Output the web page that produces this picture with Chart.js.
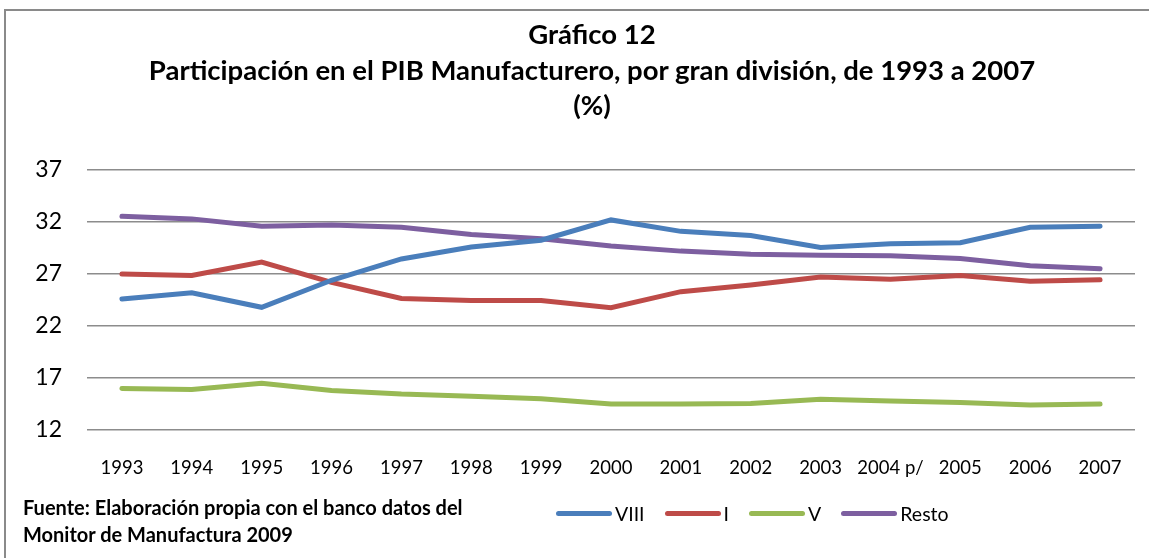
<!DOCTYPE html>
<html>
<head>
<meta charset="utf-8">
<script src="https://cdn.jsdelivr.net/npm/chart.js@4"></script>
<style>
  body { margin: 0; background: #fff; overflow: hidden; }
  #frame { position: absolute; left: 4px; top: 9px; width: 1160px; height: 560px;
           border-left: 2px solid #8a8a8a; border-top: 2px solid #8a8a8a; }
  #wrap { position: absolute; left: 0; top: 0; width: 1149px; height: 558px; }
  #title { position: absolute; left: 0; top: 16px; width: 1184px; text-align: center;
           font: bold 27.5px Lato, sans-serif; line-height: 35.5px; color: #000; }
  .note { position: absolute; left: 23px; top: 494px; font: bold 20px Lato, sans-serif; line-height: 27px; color: #000; }
  #legend { position: absolute; left: 556px; top: 502px; font: 19.5px Lato, sans-serif; color: #000; display: flex; }
  #legend span.item { display: flex; align-items: center; margin-right: 20px; }
  #legend span.sw { display: inline-block; width: 56px; height: 5px; border-radius: 3px; margin-right: 3px; }
</style>
</head>
<body>
<div id="frame"></div>
<div id="wrap"><canvas id="myChart" width="1149" height="558"></canvas></div>
<div id="title"></div>
<div class="note">Fuente: Elaboración propia con el banco datos del<br>Monitor de Manufactura 2009</div>
<div id="legend"></div>
<script>
// categorias y series
const years = ['1993','1994','1995','1996','1997','1998','1999','2000','2001','2002','2003','2004 p/','2005','2006','2007'];
const viii  = [24.6, 25.2, 23.8, 26.4, 28.45, 29.6, 30.25, 32.2, 31.1, 30.7, 29.55, 29.9, 30.0, 31.5, 31.6];
const i_div = [27.0, 26.85, 28.15, 26.2, 24.65, 24.45, 24.45, 23.75, 25.3, 25.95, 26.7, 26.5, 26.85, 26.3, 26.45];
const v_div = [16.0, 15.9, 16.5, 15.8, 15.45, 15.25, 15.0, 14.5, 14.5, 14.55, 14.95, 14.8, 14.65, 14.4, 14.5];
const resto = [32.55, 32.3, 31.6, 31.7, 31.5, 30.8, 30.4, 29.7, 29.2, 28.9, 28.8, 28.75, 28.5, 27.8, 27.5];

const seriesNames  = ['VIII', 'I', 'V', 'Resto'];
const seriesColors = ['#4a7ebb', '#be4b48', '#98b954', '#7d5fa0'];
const seriesData   = [viii, i_div, v_div, resto];

const titleLines = ['Gráfico 12', 'Participación en el PIB Manufacturero, por gran división, de 1993 a 2007', '(%)'];

// titulo en html (centrado igual que el original, algo a la derecha del centro)
let title = document.querySelector('#title');
titleLines.forEach((line, k) => {
  let d = document.createElement('div');
  d.textContent = line;
  title.appendChild(d);
});

// leyenda en html
let legend = document.querySelector('#legend');
seriesNames.forEach((name, k) => {
  let item = document.createElement('span');
  item.className = 'item';
  item.innerHTML = '<span class="sw" style="background:' + seriesColors[k] + '"></span>' + name;
  legend.appendChild(item);
});

var data = {
  labels: years,
  datasets: seriesNames.map((name, k) => ({
    label: name,
    data: seriesData[k],
    borderColor: seriesColors[k],
    backgroundColor: seriesColors[k],
    borderWidth: 5,
    pointRadius: 0,
    tension: 0,
    borderCapStyle: 'round'
  }))
};

var options = {
  responsive: false,
  animation: false,
  layout: { padding: { left: 0, right: 14, top: 170, bottom: 78 } },
  plugins: {
    legend: { display: false },
    tooltip: { enabled: false },
    title: { display: false }
  },
  scales: {
    x: {
      offset: true,
      grid: { display: false },
      border: { display: false },
      ticks: { color: '#000', font: { family: 'Lato', size: 18.5 }, padding: 19, maxRotation: 0, autoSkip: false },
      afterFit: (s) => { s.height = 50; }
    },
    y: {
      min: 12,
      max: 37,
      grid: { color: '#8c8c8c', lineWidth: 1.5, drawTicks: false },
      border: { display: false },
      ticks: { stepSize: 5, color: '#000', font: { family: 'Lato', size: 23 }, padding: 25 },
      afterFit: (s) => { s.width = 87; }
    }
  }
};

var context = document.getElementById('myChart').getContext('2d');
var myChart = new Chart(context, { type: 'line', data: data, options: options });
</script>
</body>
</html>
